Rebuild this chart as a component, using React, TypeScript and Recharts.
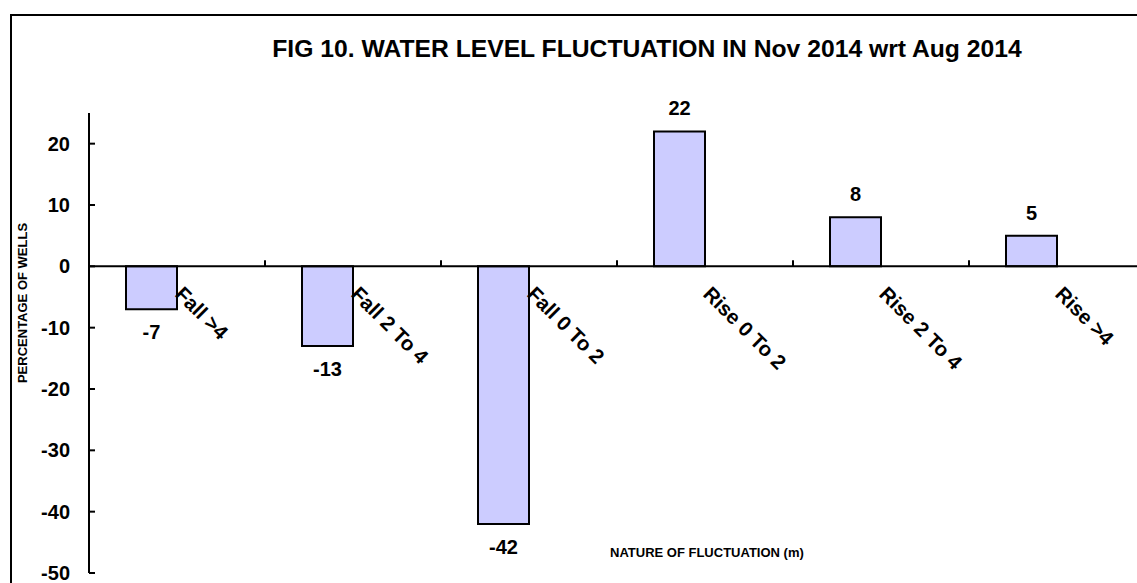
import React from 'react';
import { BarChart, Bar, XAxis, YAxis, ReferenceLine, LabelList, Label } from 'recharts';

const categories = ['Fall >4', 'Fall 2 To 4', 'Fall 0 To 2', 'Rise 0 To 2', 'Rise 2 To 4', 'Rise >4'];
const wellPercent = [-7, -13, -42, 22, 8, 5];
const emptySeries = [0, 0, 0, 0, 0, 0];
const yTicks = [-50, -40, -30, -20, -10, 0, 10, 20];

const TITLE = 'FIG 10. WATER LEVEL FLUCTUATION IN Nov 2014 wrt Aug 2014';
const Y_LABEL = 'PERCENTAGE OF WELLS';
const X_LABEL = 'NATURE OF FLUCTUATION (m)';

const FONT = '"Liberation Sans", Arial, Helvetica, sans-serif';
const GAP = 37;
const TICK_MARGIN = 19;

const data = categories.map((cat, i) => ({ cat, value: wellPercent[i], empty: emptySeries[i] }));

const YTick = (props: any) => {
  const { x, y, payload } = props;
  return (
    <g>
      <line x1={x + TICK_MARGIN} x2={x + TICK_MARGIN + 6} y1={y} y2={y} stroke="#000" strokeWidth={2} />
      <text x={x} y={y + 7} textAnchor="end" fontFamily={FONT} fontWeight="bold" fontSize={20} fill="#000">
        {payload.value}
      </text>
    </g>
  );
};

const ValueLabel = (props: any) => {
  const { x, y, width, height, value } = props;
  const top = Math.min(y, y + height);
  const bottom = Math.max(y, y + height);
  const cx = x + width / 2;
  const ty = value >= 0 ? top - 16 : bottom + 30;
  return (
    <text x={cx} y={ty} textAnchor="middle" fontFamily={FONT} fontWeight="bold" fontSize={20} fill="#000">
      {value}
    </text>
  );
};

const CategoryLabel = (props: any) => {
  const { x, y, width, height, value, index } = props;
  const zero = value >= 0 ? Math.max(y, y + height) : Math.min(y, y + height);
  const px = x + width - 3;
  const py = zero + 29;
  const boundary = x + 2 * width + GAP;
  return (
    <g>
      <line x1={boundary} x2={boundary} y1={zero} y2={zero - 6} stroke="#000" strokeWidth={2} />
      <text
        x={px}
        y={py}
        transform={`rotate(45, ${px}, ${py})`}
        textAnchor="start"
        fontFamily={FONT}
        fontWeight="bold"
        fontSize={20.5}
        fill="#000"
      >
        {categories[index]}
      </text>
    </g>
  );
};

const YAxisTitle = (props: any) => {
  const { viewBox } = props;
  const tx = viewBox.x + 27;
  const ty = viewBox.y + viewBox.height / 2 - 40;
  return (
    <text
      x={tx}
      y={ty}
      transform={`rotate(-90, ${tx}, ${ty})`}
      textAnchor="middle"
      fontFamily={FONT}
      fontWeight="bold"
      fontSize={13}
      fill="#000"
    >
      {Y_LABEL}
    </text>
  );
};

export default function App() {
  return (
    <div
      style={{
        position: 'absolute',
        left: 0,
        top: 0,
        width: 1137,
        height: 583,
        overflow: 'hidden',
        background: '#fff',
        fontFamily: FONT,
      }}
    >
      <div
        style={{
          position: 'absolute',
          left: 10,
          top: 14,
          width: 1200,
          height: 700,
          border: '2px solid #000',
          boxSizing: 'border-box',
        }}
      />
      <div
        style={{
          position: 'absolute',
          left: 0,
          top: 37,
          width: 1294,
          textAlign: 'center',
          fontSize: 24.7,
          lineHeight: '24px',
          fontWeight: 'bold',
          color: '#000',
          whiteSpace: 'nowrap',
        }}
      >
        {TITLE}
      </div>
      <div
        style={{
          position: 'absolute',
          left: 610,
          top: 546,
          fontSize: 13,
          lineHeight: '13px',
          fontWeight: 'bold',
          color: '#000',
          whiteSpace: 'nowrap',
        }}
      >
        {X_LABEL}
      </div>
      <div style={{ position: 'absolute', left: 0, top: 0 }}>
        <BarChart
          width={1160}
          height={583}
          data={data}
          margin={{ top: 113, right: 15, bottom: 10, left: 0 }}
          barGap={0}
          barCategoryGap={GAP}
        >
          <XAxis dataKey="cat" hide />
          <YAxis
            domain={[-50, 25]}
            ticks={yTicks}
            width={89}
            tickSize={0}
            tickMargin={TICK_MARGIN}
            tickLine={false}
            axisLine={{ stroke: '#000', strokeWidth: 2 }}
            tick={<YTick />}
            interval={0}
            allowDataOverflow
          >
            <Label content={<YAxisTitle />} />
          </YAxis>
          <ReferenceLine y={0} stroke="#000" strokeWidth={2} />
          <Bar dataKey="value" fill="#CCCCFF" stroke="#000" strokeWidth={2} isAnimationActive={false}>
            <LabelList dataKey="value" content={<ValueLabel />} />
            <LabelList dataKey="value" content={<CategoryLabel />} />
          </Bar>
          <Bar dataKey="empty" fill="none" stroke="none" isAnimationActive={false} />
        </BarChart>
      </div>
    </div>
  );
}
